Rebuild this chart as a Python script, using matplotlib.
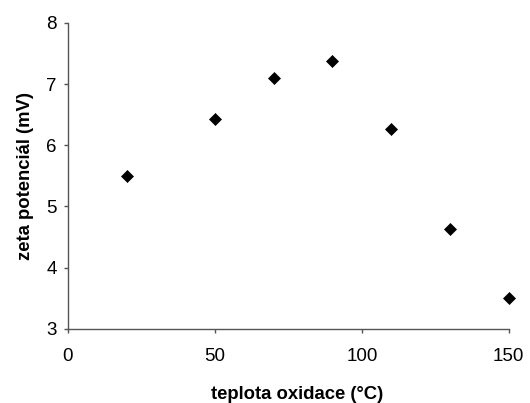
import matplotlib.pyplot as plt

# data
temperature = [20, 50, 70, 90, 110, 130, 150]
zeta = [5.5, 6.43, 7.1, 7.38, 6.26, 4.63, 3.51]
x_ticks = [0, 50, 100, 150]
y_ticks = [3, 4, 5, 6, 7, 8]

plt.rcParams['font.family'] = ['Liberation Sans', 'DejaVu Sans']

fig = plt.figure(figsize=(5.3, 4.03), dpi=100)
ax = fig.add_axes([0.128, 0.184, 0.832, 0.759])

ax.plot(temperature, zeta, linestyle='none', marker='D', markersize=5.8,
        color='black', markeredgewidth=0.5, clip_on=False)

ax.set_xlim(0, 150)
ax.set_ylim(3, 8)
ax.set_xticks(x_ticks)
ax.set_yticks(y_ticks)

for side in ['top', 'right']:
    ax.spines[side].set_visible(False)
for side in ['left', 'bottom']:
    ax.spines[side].set_color('#555555')
    ax.spines[side].set_linewidth(1)

ax.tick_params(axis='both', direction='out', length=3, width=1, color='#555555', labelsize=13.5)
ax.tick_params(axis='x', pad=11)
ax.tick_params(axis='y', pad=5)

ax.set_xlabel('teplota oxidace (°C)', fontsize=13.3, fontweight='bold')
ax.xaxis.set_label_coords(0.519, -0.188)
ax.set_ylabel('zeta potenciál (mV)', fontsize=13.3, fontweight='bold', labelpad=9)

fig.savefig('out.png', dpi=100)
